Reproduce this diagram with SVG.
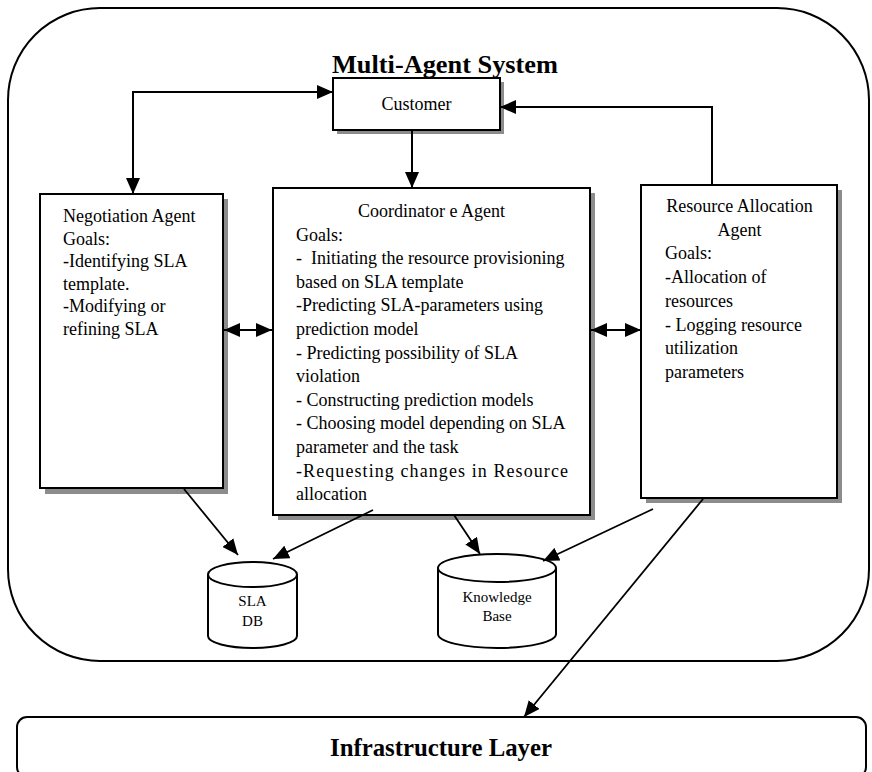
<svg xmlns="http://www.w3.org/2000/svg" width="872" height="772" viewBox="0 0 872 772">
<style>
.box{fill:#fff;stroke:#000;stroke-width:2}
.shadow{fill:#8c8c8c}
.t{font-family:"Liberation Serif","Times New Roman",serif;font-size:18px;fill:#000}
.c{text-anchor:middle}
.db{font-family:"Liberation Serif","Times New Roman",serif;font-size:15px;fill:#000;text-anchor:middle}
.title{font-family:"Liberation Serif","Times New Roman",serif;font-weight:bold;font-size:25px;fill:#000;text-anchor:middle}
.ln{fill:none;stroke:#000;stroke-width:2}
.ln2{fill:none;stroke:#000;stroke-width:1.8}
</style>
<defs>
<marker id="ah" markerUnits="userSpaceOnUse" markerWidth="16" markerHeight="14" refX="16" refY="7" orient="auto-start-reverse">
<path d="M0,0 L16,7 L0,14 z" fill="#000"/>
</marker>
</defs>
<rect width="872" height="772" fill="#fff"/>
<g id="mas">
<rect x="8" y="8" width="861" height="653" rx="92" ry="92" fill="none" stroke="#000" stroke-width="2"/>
<text class="title" x="445" y="73" textLength="226" lengthAdjust="spacingAndGlyphs">Multi-Agent System</text>
</g>
<g id="infra">
<rect x="17" y="717" width="849" height="60" rx="10" ry="10" fill="#fff" stroke="#000" stroke-width="2"/>
<text class="title" x="441" y="756" textLength="222" lengthAdjust="spacingAndGlyphs">Infrastructure Layer</text>
</g>
<g id="customer">
<rect class="shadow" x="337" y="82" width="167" height="52"/>
<rect class="box" x="333" y="78" width="167" height="52"/>
<text class="t c" x="416.5" y="110">Customer</text>
</g>
<g id="negotiation">
<rect class="shadow" x="45" y="199" width="183" height="295"/>
<rect class="box" x="40" y="194" width="183" height="294"/>
<text class="t" x="63" y="222">Negotiation Agent</text>
<text class="t" x="63" y="244.6">Goals:</text>
<text class="t" x="63" y="267.2">-Identifying SLA</text>
<text class="t" x="63" y="289.8">template.</text>
<text class="t" x="63" y="312.4">-Modifying or</text>
<text class="t" x="63" y="335">refining SLA</text>
</g>
<g id="coordinator">
<rect class="shadow" x="278" y="193" width="317" height="327"/>
<rect class="box" x="273" y="188" width="317" height="327"/>
<text class="t c" x="431.5" y="217">Coordinator e Agent</text>
<text class="t" x="296" y="240.6">Goals:</text>
<text class="t" x="296" y="264.2" xml:space="preserve">-  Initiating the resource provisioning</text>
<text class="t" x="296" y="287.8">based on SLA template</text>
<text class="t" x="296" y="311.4">-Predicting SLA-parameters using</text>
<text class="t" x="296" y="335">prediction model</text>
<text class="t" x="296" y="358.6">- Predicting possibility of SLA</text>
<text class="t" x="296" y="382.2">violation</text>
<text class="t" x="296" y="405.8">- Constructing prediction models</text>
<text class="t" x="296" y="429.4">- Choosing model depending on SLA</text>
<text class="t" x="296" y="453">parameter and the task</text>
<text class="t" x="296" y="476.6" textLength="272" lengthAdjust="spacing">-Requesting changes in Resource</text>
<text class="t" x="296" y="500.2">allocation</text>
</g>
<g id="resource">
<rect class="shadow" x="646" y="190" width="196" height="313"/>
<rect class="box" x="641" y="185" width="196" height="313"/>
<text class="t c" x="739.5" y="212">Resource Allocation</text>
<text class="t c" x="739.5" y="235.7">Agent</text>
<text class="t" x="665" y="259.4">Goals:</text>
<text class="t" x="665" y="283.1">-Allocation of</text>
<text class="t" x="665" y="306.8">resources</text>
<text class="t" x="665" y="330.5">- Logging resource</text>
<text class="t" x="665" y="354.2">utilization</text>
<text class="t" x="665" y="377.9">parameters</text>
</g>
<g id="sladb">
<path d="M208,574.5 A44.5,12.5 0 0 1 297,574.5 V636 A44.5,12 0 0 1 208,636 Z" fill="#fff" stroke="#000" stroke-width="2"/>
<path d="M208,574.5 A44.5,12.5 0 0 0 297,574.5" fill="none" stroke="#000" stroke-width="2"/>
<text class="db" x="252.5" y="606">SLA</text>
<text class="db" x="252.5" y="626">DB</text>
</g>
<g id="kb">
<path d="M438,568 A59,14 0 0 1 556,568 V634 A59,14 0 0 1 438,634 Z" fill="#fff" stroke="#000" stroke-width="2"/>
<path d="M438,568 A59,14 0 0 0 556,568" fill="none" stroke="#000" stroke-width="2"/>
<text class="db" x="497" y="602">Knowledge</text>
<text class="db" x="497" y="621">Base</text>
</g>
<g id="connectors">
<path class="ln" d="M333,92 H133 V194" marker-start="url(#ah)" marker-end="url(#ah)"/>
<path class="ln" d="M712,185 V107 H500" marker-end="url(#ah)"/>
<path class="ln" d="M412,130 V188" marker-end="url(#ah)"/>
<path class="ln" d="M224,330 H272" marker-start="url(#ah)" marker-end="url(#ah)"/>
<path class="ln" d="M591,330 H641" marker-start="url(#ah)" marker-end="url(#ah)"/>
<path class="ln2" d="M184,489 L238,555" marker-end="url(#ah)"/>
<path class="ln2" d="M373,510 L273,559" marker-end="url(#ah)"/>
<path class="ln2" d="M454,515 L480,554" marker-end="url(#ah)"/>
<path class="ln2" d="M653,509 L543,561" marker-end="url(#ah)"/>
<path class="ln2" d="M703,499 L524,717" marker-end="url(#ah)"/>
</g>
</svg>
